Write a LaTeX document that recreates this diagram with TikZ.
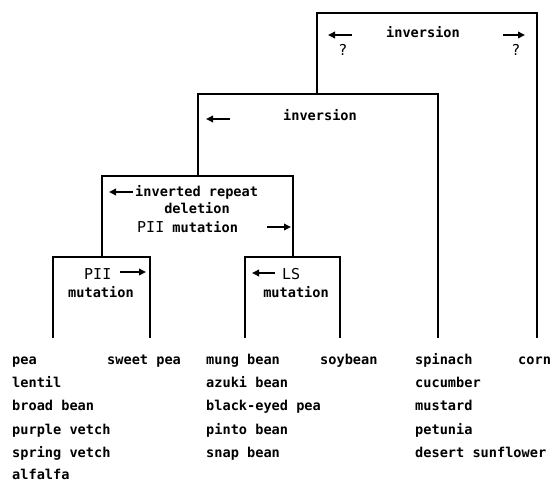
\documentclass[tikz,border=0pt]{standalone}
\usepackage{fontspec}
\setmainfont{DejaVu Sans Mono}
\usetikzlibrary{arrows.meta}
\newcommand{\capsfont}{\fontsize{15}{16}\selectfont\mdseries}
\begin{document}
\begin{tikzpicture}[x=1pt,y=-1pt,
  branch/.style={line width=1.2pt},
  txt/.style={font=\fontsize{13.6}{16}\selectfont\bfseries, inner sep=0pt, anchor=base},
  txtw/.style={txt, anchor=base west},
  dirarrow/.style={-{Triangle[length=7pt,width=6.5pt]}, line width=2.6pt}]
\useasboundingbox (0,0) rectangle (553,481);
% leaf ends
\coordinate (L1) at (53,338);
\coordinate (L2) at (150,338);
\coordinate (L3) at (245,338);
\coordinate (L4) at (340,338);
\coordinate (L5) at (438,338);
\coordinate (L6) at (537,338);
% internal tops
\coordinate (a4) at (102,257);
\coordinate (b4) at (293,257);
\coordinate (a3) at (198,176);
\coordinate (a2) at (317,94);
\coordinate (a1) at (427,13);
% tree
\draw[branch] (L1) |- (a4) -| (L2);
\draw[branch] (L3) |- (b4) -| (L4);
\draw[branch] (a4) |- (a3) -| (b4);
\draw[branch] (a3) |- (a2) -| (L5);
\draw[branch] (a2) |- (a1) -| (L6);
% root box
\node[txt] (t1) at (423,38) {inversion};
\coordinate (r1a) at (352,35); \coordinate (r1b) at (328,35);
\draw[dirarrow] (r1a) -- (r1b);
\coordinate (r2a) at (503,35); \coordinate (r2b) at (525,35);
\draw[dirarrow] (r2a) -- (r2b);
\node[txt,font=\capsfont] (q1) at (343,56) {?};
\node[txt,font=\capsfont] (q2) at (516,56) {?};
% second box
\node[txt] (t2) at (320,121) {inversion};
\coordinate (s1a) at (230,119); \coordinate (s1b) at (206,119);
\draw[dirarrow] (s1a) -- (s1b);
% third box
\node[txtw] (t3a) at (135,196) {inverted repeat};
\node[txt] (t3b) at (197,213) {deletion};
\node[txtw] (t3c) at (137,232) {{\capsfont PII} mutation};
\coordinate (u1a) at (133,192); \coordinate (u1b) at (109,192);
\draw[dirarrow] (u1a) -- (u1b);
\coordinate (u2a) at (267,227); \coordinate (u2b) at (291,227);
\draw[dirarrow] (u2a) -- (u2b);
% PII box
\node[txtw,font=\capsfont] (t4a) at (84,279) {PII};
\coordinate (v1a) at (120,272); \coordinate (v1b) at (146,272);
\draw[dirarrow] (v1a) -- (v1b);
\node[txt] (t4b) at (101,297) {mutation};
% LS box
\node[txtw,font=\capsfont] (t5a) at (282,279) {LS};
\coordinate (w1a) at (275,273); \coordinate (w1b) at (252,273);
\draw[dirarrow] (w1a) -- (w1b);
\node[txt] (t5b) at (296,297) {mutation};
% leaves
\node[txtw] (n1) at (12,364) {pea};
\node[txtw] (n2) at (12,387.3) {lentil};
\node[txtw] (n3) at (12,410.6) {broad bean};
\node[txtw] (n4) at (12,434) {purple vetch};
\node[txtw] (n5) at (12,457.2) {spring vetch};
\node[txtw] (n6) at (12,479) {alfalfa};
\node[txtw] (n7) at (107,364) {sweet pea};
\node[txtw] (m1) at (206,364) {mung bean};
\node[txtw] (m2) at (206,387.3) {azuki bean};
\node[txtw] (m3) at (206,410.6) {black-eyed pea};
\node[txtw] (m4) at (206,434) {pinto bean};
\node[txtw] (m5) at (206,457.2) {snap bean};
\node[txtw] (m6) at (320,364) {soybean};
\node[txtw] (p1) at (415,364) {spinach};
\node[txtw] (p2) at (415,387.3) {cucumber};
\node[txtw] (p3) at (415,410.6) {mustard};
\node[txtw] (p4) at (415,434) {petunia};
\node[txtw] (p5) at (415,457.2) {desert sunflower};
\node[txtw] (p6) at (518,364) {corn};
\end{tikzpicture}
\end{document}
